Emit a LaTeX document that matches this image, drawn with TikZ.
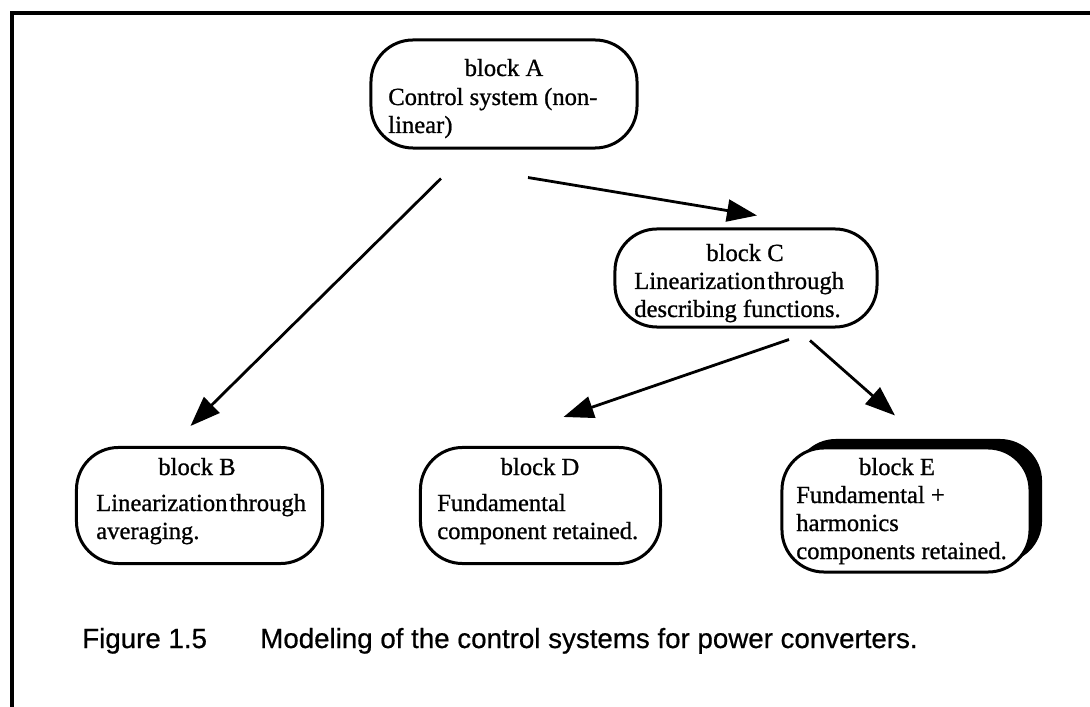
\documentclass[tikz,border=0pt]{standalone}
\usepackage{fontspec}
\setmainfont{Liberation Serif}[FakeBold=0.9]
\newfontfamily\capfont{Liberation Sans}[FakeBold=0.6]
\usetikzlibrary{arrows.meta,calc,shadows}
\begin{document}
\begin{tikzpicture}[x=0.025cm,y=-0.025cm,
  blk/.style={draw, line width=0.075cm, rounded corners=1.05cm, fill=white, inner sep=0pt},
  arr/.style={line width=0.07cm, -{Triangle[length=0.75cm,width=0.55cm]}},
  txt/.style={inner sep=0pt, font=\fontsize{17.5}{20}\selectfont},
  ttl/.style={txt, anchor=base},
  lin/.style={txt, anchor=base west},
  captext/.style={inner sep=0pt, anchor=base west, font=\capfont\fontsize{19.7}{22}\selectfont},
]
\useasboundingbox (0,0) rectangle (1090,707);
\fill[white] (0,0) rectangle (1090,707);
% open frame: top and left edges only
\draw[line width=0.1cm] (1090,13) -- (12,13) -- (12,707);

% blocks
\node[blk, minimum width=6.65cm,  minimum height=2.7cm]   (A) at (504,94) {};
\node[blk, minimum width=6.55cm,  minimum height=2.45cm]  (C) at (746,278) {};
\node[blk, minimum width=6.15cm,  minimum height=2.9cm]   (B) at (199.5,505.5) {};
\node[blk, minimum width=6.0cm,   minimum height=2.9cm]   (D) at (540.5,505.5) {};
\node[blk, minimum width=6.2cm,   minimum height=3.1cm,
      drop shadow={shadow xshift=0.3cm, shadow yshift=0.225cm, fill=black, opacity=1}] (E) at (906,510) {};

% block texts
\node[ttl] (At) at (504,76) {block A};
\node[lin] (A1) at (388,105) {Control system (non-};
\node[lin] (A2) at (388,133) {linear)};

\node[ttl] (Ct) at (745,261) {block C};
\node[lin] (C1) at (634,289) {Linearization\hspace{0.08em}through};
\node[lin] (C2) at (634,317) {describing functions.};

\node[ttl] (Bt) at (197,475) {block B};
\node[lin] (B1) at (96,511) {Linearization\hspace{0.08em}through};
\node[lin] (B2) at (96,539) {averaging.};

\node[ttl] (Dt) at (540,475) {block D};
\node[lin] (D1) at (437,511) {Fundamental};
\node[lin] (D2) at (437,539) {component retained.};

\node[ttl] (Et) at (897,475) {block E};
\node[lin] (E1) at (796,503) {Fundamental +};
\node[lin] (E2) at (796,531) {harmonics};
\node[lin] (E3) at (796,559) {components retained.};

% connector ends, placed relative to the blocks
\coordinate (ab0) at ($(A.south)+(-63,29)$);
\coordinate (ab1) at ($(B.north)+(-9,-20)$);
\coordinate (ac0) at ($(A.south)+(24,28)$);
\coordinate (ac1) at ($(C.north)+(11,-12)$);
\coordinate (cd0) at ($(C.south)+(43,11)$);
\coordinate (cd1) at ($(D.north)+(23,-29)$);
\coordinate (ce0) at ($(C.south)+(64,12)$);
\coordinate (ce1) at ($(E.north)+(-11,-31)$);

\draw[arr] (ab0) -- (ab1);
\draw[arr] (ac0) -- (ac1);
\draw[arr] (cd0) -- (cd1);
\draw[arr] (ce0) -- (ce1);

% caption
\node[captext] (fig) at (82,648) {Figure 1.5};
\node[captext] (figtext) at (260,648) {Modeling of the control systems for power converters.};
\end{tikzpicture}
\end{document}
